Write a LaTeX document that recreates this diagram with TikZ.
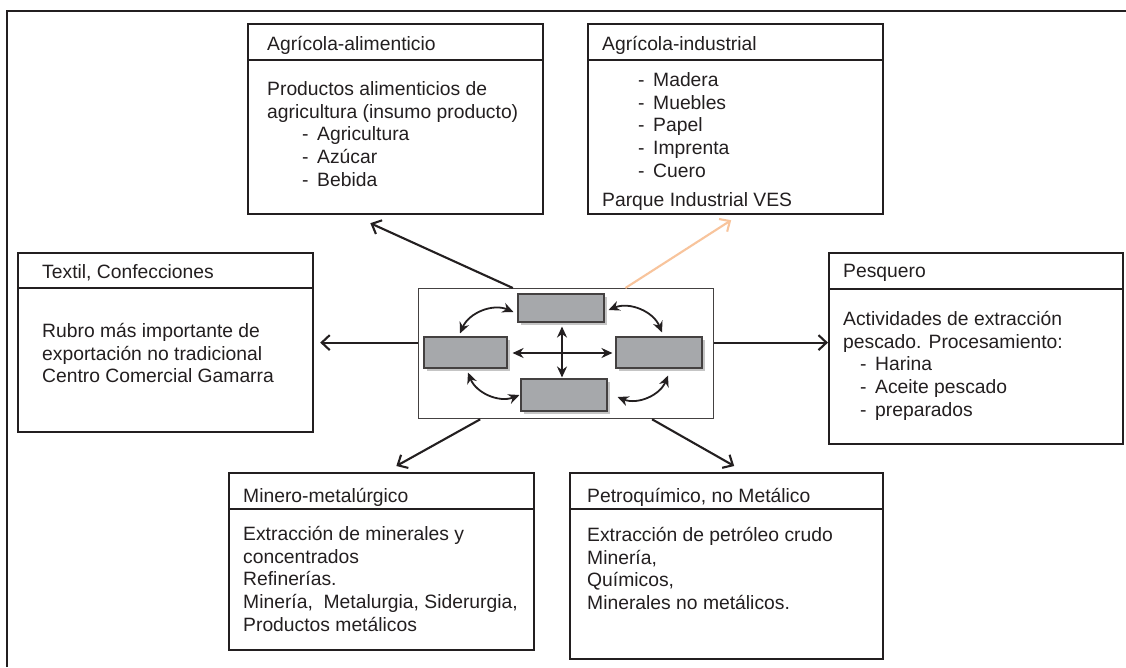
\documentclass[tikz,border=0pt]{standalone}
\usepackage{fontspec}
\setmainfont{Liberation Sans}
\usetikzlibrary{arrows.meta,calc,shadows}
\definecolor{ink}{HTML}{231F20}
\definecolor{peach}{HTML}{F8C49C}
\definecolor{rgray}{HTML}{A6A8AB}
\newcommand\fst{\rule{0pt}{16pt}}
\newcommand\itm[1]{\makebox[15pt][l]{-}#1}
\begin{document}
\begin{tikzpicture}[x=1pt,y=-1pt,font=\fontsize{19.3}{22.8}\selectfont,
  bx/.style={draw=ink,line width=2.2pt,inner sep=0pt,anchor=north west,fill=white},
  ttl/.style={anchor=base west,inner sep=0pt,text=ink},
  bdy/.style={anchor=north west,inner sep=0pt,align=left,text=ink},
  sep/.style={draw=ink,line width=2.2pt},
  conn/.style={line width=2.1pt,-{Straight Barb[length=8pt,width=15pt]}},
  inarr/.style={draw=ink,line width=1.8pt,{Stealth[length=11pt,width=10pt]}-{Stealth[length=11pt,width=10pt]}},
  rbox/.style={draw=ink!85,fill=rgray,line width=1.1pt,inner sep=0pt,
    drop shadow={shadow xshift=2.5pt,shadow yshift=-2.5pt,opacity=0.45}},
  cbox/.style={draw=ink!85,line width=1.3pt,inner sep=0pt,anchor=north west,fill=white}]
\useasboundingbox (0,0) rectangle (1126,667);
\fill[white] (0,0) rectangle (1126,667);
% outer frame
\draw[ink,line width=2.4pt] (7,667) -- (7,11) -- (1126,11);

% boxes
\node[bx,minimum width=295pt,minimum height=190pt] (agal) at (247,23) {};
\draw[sep] ($(agal.north west)+(0,37)$) -- ($(agal.north east)+(0,37)$);
\node[ttl] (agalT) at ($(agal.north west)+(20,27)$) {Agrícola-alimenticio};
\node[bdy] (agalB) at ($(agal.north west)+(20,56)$) {\fst Productos alimenticios de\\agricultura (insumo producto)\\
\hspace*{35pt}\itm{Agricultura}\\\hspace*{35pt}\itm{Azúcar}\\\hspace*{35pt}\itm{Bebida}};

\node[bx,minimum width=295pt,minimum height=190pt] (agin) at (587,23) {};
\draw[sep] ($(agin.north west)+(0,37)$) -- ($(agin.north east)+(0,37)$);
\node[ttl] (aginT) at ($(agin.north west)+(15,27)$) {Agrícola-industrial};
\node[bdy] (aginB) at ($(agin.north west)+(15,47)$) {\fst\hspace*{36pt}\itm{Madera}\\\hspace*{36pt}\itm{Muebles}\\
\hspace*{36pt}\itm{Papel}\\\hspace*{36pt}\itm{Imprenta}\\\hspace*{36pt}\itm{Cuero}\\[6pt]Parque Industrial VES};

\node[bx,minimum width=295pt,minimum height=179pt] (tex) at (17,252) {};
\draw[sep] ($(tex.north west)+(0,36)$) -- ($(tex.north east)+(0,36)$);
\node[ttl] (texT) at ($(tex.north west)+(25,26)$) {Textil, Confecciones};
\node[bdy] (texB) at ($(tex.north west)+(25,69)$) {\fst Rubro más importante de\\exportación no tradicional\\Centro Comercial Gamarra};

\node[bx,minimum width=294pt,minimum height=191pt] (pesq) at (828,252) {};
\draw[sep] ($(pesq.north west)+(0,37)$) -- ($(pesq.north east)+(0,37)$);
\node[ttl] (pesqT) at ($(pesq.north west)+(15,25)$) {Pesquero};
\node[bdy] (pesqB) at ($(pesq.north west)+(15,57)$) {\fst Actividades de extracción\\pescado. Procesamiento:\\
\hspace*{17pt}\itm{Harina}\\\hspace*{17pt}\itm{Aceite pescado}\\\hspace*{17pt}\itm{preparados}};

\node[bx,minimum width=305pt,minimum height=177pt] (mine) at (228,472) {};
\draw[sep] ($(mine.north west)+(0,37)$) -- ($(mine.north east)+(0,37)$);
\node[ttl] (mineT) at ($(mine.north west)+(15,30)$) {Minero-metalúrgico};
\node[bdy] (mineB) at ($(mine.north west)+(15,52)$) {\fst Extracción de minerales y\\concentrados\\Refinerías.\\
Minería,\ \ Metalurgia, Siderurgia,\\Productos metálicos};

\node[bx,minimum width=313pt,minimum height=186pt] (petr) at (569,472) {};
\draw[sep] ($(petr.north west)+(0,37)$) -- ($(petr.north east)+(0,37)$);
\node[ttl] (petrT) at ($(petr.north west)+(18,30)$) {Petroquímico, no Metálico};
\node[bdy] (petrB) at ($(petr.north west)+(18,53)$) {\fst Extracción de petróleo crudo\\Minería,\\Químicos,\\Minerales no metálicos.};

% centre
\node[cbox,minimum width=295pt,minimum height=130pt] (ctr) at (418,288) {};
\node[rbox,minimum width=86pt,minimum height=28pt] (r1) at (561,308) {};
\node[rbox,minimum width=83pt,minimum height=31pt] (r2) at (465.5,352.5) {};
\node[rbox,minimum width=86pt,minimum height=31pt] (r3) at (659,352.5) {};
\node[rbox,minimum width=86pt,minimum height=32pt] (r4) at (564,395) {};

\coordinate (c1a) at ($(r1.west)+(-4,4)$);
\coordinate (c1b) at ($(r2.north)+(-5.5,-3)$);
\coordinate (c2a) at ($(r1.east)+(4,2)$);
\coordinate (c2b) at ($(r3.north)+(3,-4)$);
\coordinate (c3a) at ($(r2.south)+(2.5,4)$);
\coordinate (c3b) at ($(r4.west)+(-1,0)$);
\coordinate (c4a) at ($(r4.east)+(10,2)$);
\coordinate (c4b) at ($(r3.south)+(9,7)$);
\draw[inarr] (c1a) to[bend right=45] (c1b);
\draw[inarr] (c2a) to[bend left=45] (c2b);
\draw[inarr] (c3a) to[bend right=45] (c3b);
\draw[inarr] (c4a) to[bend right=45] (c4b);
\coordinate (h1) at ($(r2.east)+(5,0.5)$);
\coordinate (h2) at ($(r3.west)+(-3,0.5)$);
\coordinate (v1) at ($(r1.south)+(1,4)$);
\coordinate (v2) at ($(r4.north)+(-2,-1)$);
\draw[inarr] (h1) -- (h2);
\draw[inarr] (v1) -- (v2);

% connectors
\coordinate (o1) at ($(ctr.north west)!0.32!(ctr.north east)$);
\coordinate (e1) at ($(agal.south west)!0.415!(agal.south east)+(0,8)$);
\draw[conn,draw=ink] (o1) -- (e1);
\coordinate (o2) at ($(ctr.north west)!0.70!(ctr.north east)$);
\coordinate (e2) at ($(agin.south west)!0.485!(agin.south east)+(0,5)$);
\draw[conn,draw=peach] (o2) -- (e2);
\coordinate (o3) at (ctr.west |- tex.east);
\coordinate (e3) at ($(tex.east)+(6,0)$);
\draw[conn,draw=ink] (o3) -- (e3);
\coordinate (o4) at (ctr.east |- tex.east);
\coordinate (e4) at (pesq.west |- tex.east);
\draw[conn,draw=ink] (o4) -- (e4);
\coordinate (o5) at ($(ctr.south west)!0.21!(ctr.south east)$);
\coordinate (e5) at ($(mine.north west)!0.548!(mine.north east)+(0,-6)$);
\draw[conn,draw=ink] (o5) -- (e5);
\coordinate (o6) at ($(ctr.south west)!0.79!(ctr.south east)$);
\coordinate (e6) at ($(petr.north west)!0.524!(petr.north east)+(0,-6)$);
\draw[conn,draw=ink] (o6) -- (e6);
\end{tikzpicture}
\end{document}
